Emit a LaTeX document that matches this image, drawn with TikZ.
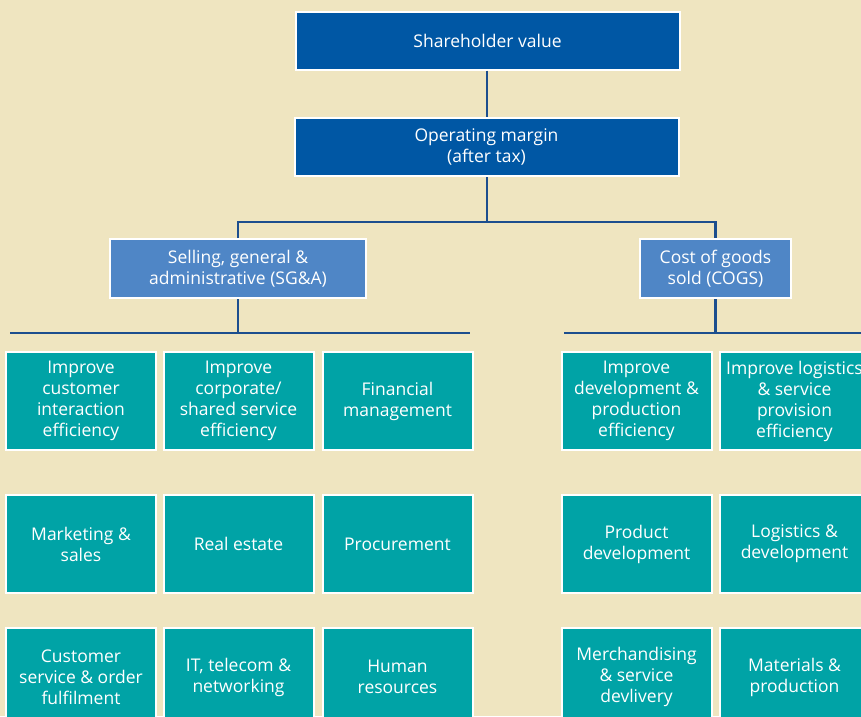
\documentclass[tikz,border=0pt]{standalone}
\usepackage{fontspec}
\setmainfont{Open Sans}
\usetikzlibrary{positioning}
\definecolor{bgbeige}{HTML}{EFE5C0}
\definecolor{darkblue}{HTML}{0057A4}
\definecolor{midblue}{HTML}{4F86C6}
\definecolor{teal}{HTML}{00A3A6}
\definecolor{linkblue}{HTML}{1C4E8E}
\tikzset{
    box/.style={draw=white, line width=2pt, text=white, align=center,
        font=\fontsize{17.5}{21}\selectfont, inner sep=0pt},
    topbox/.style={box, fill=darkblue, minimum width=384pt, minimum height=58pt},
    costbox/.style={box, fill=midblue, minimum height=59pt},
    leafbox/.style={box, fill=teal, minimum width=150pt, minimum height=98pt},
    link/.style={draw=linkblue, line width=2.6pt},
}
\begin{document}
\begin{tikzpicture}[x=1pt, y=-1pt]
	\clip (0,0) rectangle (861,716);
	\fill[bgbeige] (0,0) rectangle (861,716);
	% top of the tree
	\node[topbox] (value) at (487.5,40.5) {Shareholder value};
	\node[topbox] (margin) at (486.5,147) {Operating margin\\(after tax)};
	\node[costbox, minimum width=256pt] (sga) at (238,268.5) {Selling, general \&\\administrative (SG\&A)};
	\node[costbox, minimum width=151pt] (cogs) at (715.5,268.5) {Cost of goods\\sold (COGS)};
	\coordinate (split) at (487,222);
	\coordinate (sgaL) at (10,333);
	\coordinate (sgaR) at (470,333);
	\coordinate (cogsL) at (564,333);
	\coordinate (cogsR) at (870,333);
	\draw[link] (value.south -| split) -- (margin.north -| split);
	\draw[link] (margin.south -| split) -- (split);
	\draw[link] (sga.north) |- (split) -| (cogs.north);
	\draw[link] (sga.south) -- (sga.south |- sgaL);
	\draw[link] (cogs.south) -- (cogs.south |- cogsL);
	\draw[link] (sgaL) -- (sgaR);
	\draw[link] (cogsL) -- (cogsR);
	% SG&A levers
	\node[leafbox] (custeff) at (81,401) {Improve\\customer\\interaction\\efficiency};
	\node[leafbox] (corpeff) at (238.5,401) {Improve\\corporate/\\shared service\\efficiency};
	\node[leafbox] (finance) at (397.5,401) {Financial\\management};
	\node[leafbox] (marketing) at (81,544) {Marketing \&\\sales};
	\node[leafbox] (estate) at (238.5,544) {Real estate};
	\node[leafbox] (procure) at (397.5,544) {Procurement};
	\node[leafbox] (service) at (81,677) {Customer\\service \& order\\fulfilment};
	\node[leafbox] (telecom) at (238.5,677) {IT, telecom \&\\networking};
	\node[leafbox] (hr) at (397.5,677) {Human\\resources};
	% COGS levers
	\node[leafbox] (deveff) at (636.5,401) {Improve\\development \&\\production\\efficiency};
	\node[leafbox] (logeff) at (794.5,401) {Improve logistics\\\& service\\provision\\efficiency};
	\node[leafbox] (product) at (636.5,544) {Product\\development};
	\node[leafbox] (logistics) at (794.5,544) {Logistics \&\\development};
	\node[leafbox] (merch) at (636.5,677) {Merchandising\\\& service\\devlivery};
	\node[leafbox] (materials) at (794.5,677) {Materials \&\\production};
\end{tikzpicture}
\end{document}
